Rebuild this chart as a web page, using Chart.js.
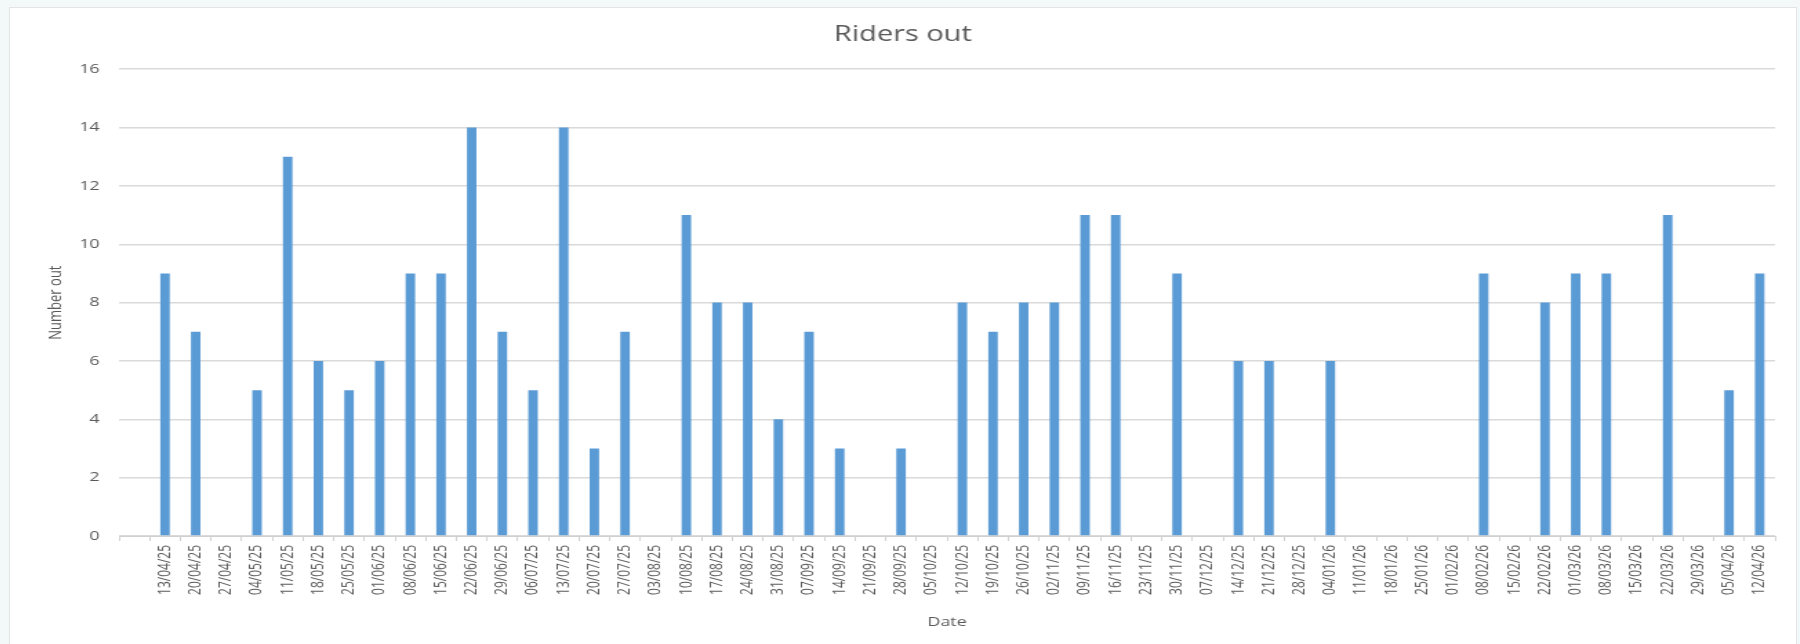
<!DOCTYPE html>
<html lang="en">
<head>
  <meta charset="UTF-8" />
  <title>Riders out</title>
  <script src="https://cdn.jsdelivr.net/npm/chart.js"></script>
  <style>
    body {
      margin: 0;
      width: 1800px;
      height: 644px;
      overflow: hidden;
      background-color: #f3f8f8;
      font-family: "Open Sans", sans-serif;
    }
    #box {
      position: absolute;
      left: 9px;
      top: 7px;
      width: 1786px;
      height: 660px;
      background: #fff;
      border: 1px solid #e4e4e4;
    }
    /* the source picture is stretched sideways, so the chart is too */
    #wrap {
      position: absolute;
      left: 0;
      top: 1px;
      width: 1293px;
      height: 635px;
      transform: scaleX(1.38);
      transform-origin: 0 0;
    }
  </style>
</head>
<body>

  <div id="box">
    <div id="wrap">
      <canvas id="ridersChart"></canvas>
    </div>
  </div>

  <script>
    // first slot is an empty row in the sheet
    const dateLabels = [
      "",
      "13/04/25", "20/04/25", "27/04/25", "04/05/25", "11/05/25", "18/05/25", "25/05/25",
      "01/06/25", "08/06/25", "15/06/25", "22/06/25", "29/06/25", "06/07/25", "13/07/25",
      "20/07/25", "27/07/25", "03/08/25", "10/08/25", "17/08/25", "24/08/25", "31/08/25",
      "07/09/25", "14/09/25", "21/09/25", "28/09/25", "05/10/25", "12/10/25", "19/10/25",
      "26/10/25", "02/11/25", "09/11/25", "16/11/25", "23/11/25", "30/11/25", "07/12/25",
      "14/12/25", "21/12/25", "28/12/25", "04/01/26", "11/01/26", "18/01/26", "25/01/26",
      "01/02/26", "08/02/26", "15/02/26", "22/02/26", "01/03/26", "08/03/26", "15/03/26",
      "22/03/26", "29/03/26", "05/04/26", "12/04/26"
    ];

    const ridersOut = [
      null,
      9, 7, 0, 5, 13, 6, 5,
      6, 9, 9, 14, 7, 5, 14,
      3, 7, 0, 11, 8, 8, 4,
      7, 3, 0, 3, 0, 8, 7,
      8, 8, 11, 11, 0, 9, 0,
      6, 6, 0, 6, 0, 0, 0,
      0, 9, 0, 8, 9, 9, 0,
      11, 0, 5, 9
    ];

    const yTicks = { min: 0, max: 16, step: 2 };

    const textColor = "#595959";
    const gridColor = "#dadada";
    const fontName = "'Open Sans', sans-serif";

    const ctx = document.getElementById("ridersChart").getContext("2d");
    const ridersChart = new Chart(ctx, {
      type: "bar",
      data: {
        labels: dateLabels,
        datasets: [
          {
            label: "Number out",
            data: ridersOut,
            backgroundColor: "#5b9bd5",
            barPercentage: 1,
            categoryPercentage: 0.31,
          },
        ],
      },
      options: {
        responsive: true,
        maintainAspectRatio: false,
        animation: false,
        layout: { padding: { left: 15, right: 14, top: 0, bottom: 0 } },
        plugins: {
          legend: { display: false },
          tooltip: { enabled: false },
          title: {
            display: true,
            text: "Riders out",
            color: textColor,
            font: { family: fontName, size: 21, weight: "normal" },
            padding: { top: 13, bottom: 22 },
          },
        },
        scales: {
          x: {
            afterFit: (scale) => { scale.height = 108; },
            grid: {
              display: true,
              offset: true,
              drawOnChartArea: false,
              drawTicks: true,
              tickLength: 5,
              color: "#d0d0d0",
            },
            border: { display: true, color: "#d0d0d0" },
            ticks: {
              autoSkip: false,
              minRotation: 90,
              maxRotation: 90,
              padding: 4,
              color: textColor,
              font: { family: fontName, size: 12 },
            },
            title: {
              display: true,
              text: "Date",
              color: textColor,
              font: { family: fontName, size: 13 },
              padding: { top: 0, bottom: 14 },
            },
          },
          y: {
            min: yTicks.min,
            max: yTicks.max,
            afterFit: (scale) => { scale.width = 64; },
            grid: { color: gridColor, lineWidth: 1.5, drawTicks: false },
            border: { display: false },
            ticks: {
              stepSize: yTicks.step,
              padding: 14,
              color: textColor,
              font: { family: fontName, size: 13 },
            },
            title: {
              display: true,
              text: "Number out",
              color: textColor,
              font: { family: fontName, size: 13 },
              padding: { top: 10, bottom: 0 },
            },
          },
        },
      },
    });
  </script>
</body>
</html>
